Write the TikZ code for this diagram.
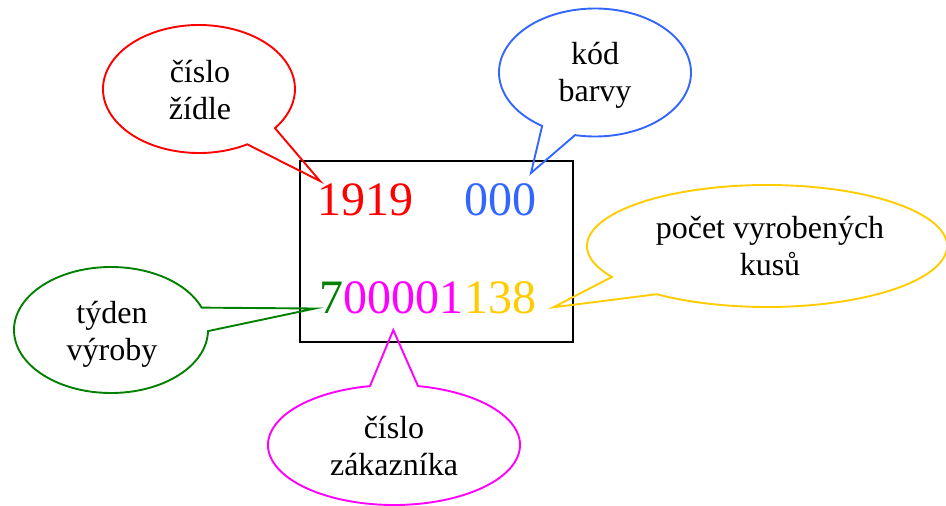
\documentclass[tikz,border=0pt]{standalone}
\usepackage{fontspec}
\setmainfont{Liberation Serif}
\definecolor{cRed}{RGB}{255,0,0}
\definecolor{cBlue}{RGB}{51,102,255}
\definecolor{cGreen}{RGB}{0,128,0}
\definecolor{cMagenta}{RGB}{255,0,255}
\definecolor{cOrange}{RGB}{255,204,0}
\tikzset{
  lbl/.style={font=\fontsize{32}{37}\selectfont, align=center, inner sep=0pt, text=black},
  digits/.style={font=\fontsize{48}{56}\selectfont, inner sep=0pt},
  bubble/.style={line width=1.9pt, line join=miter},
  codebox/.style={draw=black, line width=2pt, minimum width=273pt, minimum height=181pt, inner sep=0pt}
}
\begin{document}
\begin{tikzpicture}[x=1pt, y=-1pt]
  \useasboundingbox (0,0) rectangle (946,506);

  % the code plate
  \node[codebox] (code) at (436.5,251.5) {};

  % printed digits
  \node[digits, text=cRed, anchor=base west] (chair) at (317.7,215) {1919};
  \node[digits, text=cBlue, anchor=base west] (colour) at (463.8,215) {000};
  \node[digits, text=cGreen, anchor=base west] (week) at (319,313) {7};
  \node[digits, text=cMagenta, anchor=base west] (customer) at (week.base east) {00001};
  \node[digits, text=cOrange, anchor=base west] (count) at (customer.base east) {138};

  % tips of the callout pointers
  \coordinate (tipChair) at (320,181);
  \coordinate (tipColour) at (531,173);
  \coordinate (tipWeek) at (315,308.5);
  \coordinate (tipCustomer) at (393.3,330);
  \coordinate (tipCount) at (553.3,307.3);

  % callout outlines: ellipse arc closed through the pointer tip
  \draw[bubble, cRed] (199,89) ++(59.8:96 and 64)
    arc[start angle=59.8, end angle=397.7, x radius=96, y radius=64] -- (tipChair) -- cycle;
  \draw[bubble, cBlue] (595,72.5) ++(123.4:96 and 64)
    arc[start angle=123.4, end angle=462, x radius=96, y radius=64] -- (tipColour) -- cycle;
  \draw[bubble, cGreen] (111,330) ++(1:97 and 63)
    arc[start angle=1, end angle=339.2, x radius=97, y radius=63] -- (tipWeek) -- cycle;
  \draw[bubble, cMagenta] (394,445) ++(281:126 and 60)
    arc[start angle=281, end angle=619, x radius=126, y radius=60] -- (tipCustomer) -- cycle;
  \draw[bubble, cOrange] (767,246) ++(149.5:180 and 61)
    arc[start angle=149.5, end angle=487.8, x radius=180, y radius=61] -- (tipCount) -- cycle;

  % callout texts
  \node[lbl] (lblChair) at (200,90) {číslo\\žídle};
  \node[lbl] (lblColour) at (595,75.4) {kód\\barvy};
  \node[lbl] (lblWeek) at (112,334.4) {týden\\výroby};
  \node[lbl] (lblCustomer) at (394,446.3) {číslo\\zákazníka};
  \node[lbl] (lblCount) at (770,246.3) {počet vyrobených\\kusů};
\end{tikzpicture}
\end{document}
